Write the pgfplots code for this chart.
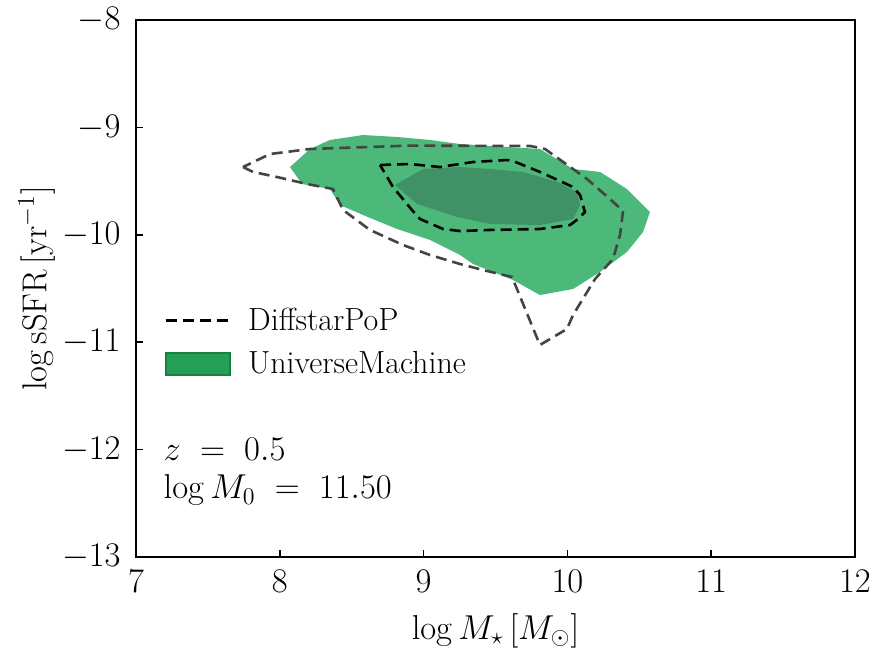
\documentclass[border=0pt]{standalone}
\usepackage{pgfplots}
\pgfplotsset{compat=1.18}
\definecolor{umgreen}{RGB}{76,185,122}
\definecolor{umdark}{RGB}{64,145,102}
\definecolor{umpatch}{RGB}{35,160,85}
\definecolor{umedge}{RGB}{24,128,66}
\definecolor{dspgray}{RGB}{68,68,68}

\begin{document}
\begin{tikzpicture}
\begin{axis}[
  scale only axis,
  width=359.5pt, height=268.5pt,
  xmin=7, xmax=12, ymin=-13, ymax=-8,
  xtick={7,8,9,10,11,12}, ytick={-13,-12,-11,-10,-9,-8},
  tick align=inside, xtick pos=bottom, ytick pos=left,
  major tick length=3.5pt,
  axis line style={line width=0.9pt},
  tick style={line width=0.8pt, black},
  ticklabel style={font=\fontsize{16.5}{19}\selectfont},
  xticklabel style={inner sep=0pt, yshift=-6.5pt},
  yticklabel style={inner sep=0pt, xshift=-7.5pt},
  xlabel={$\log M_\star\,[M_\odot]$},
  ylabel={$\log \mathrm{sSFR}\,[\mathrm{yr}^{-1}]$},
  label style={font=\fontsize{18.5}{22}\selectfont},
  xlabel style={at={(axis description cs:0.5,-0.137)}, anchor=center},
  ylabel style={at={(axis description cs:-0.138,0.5)}, anchor=center},
  legend style={draw=none, fill=none, at={(axis description cs:0.039,0.40)}, anchor=west,
    font=\fontsize{16}{19}\selectfont, row sep=5pt, inner sep=0pt},
  legend cell align=left,
]
% UniverseMachine outer contour
\addplot[fill=umgreen, draw=none, forget plot] coordinates {
(8.071,-9.369) (8.210,-9.201) (8.349,-9.117) (8.579,-9.071) (8.815,-9.089)
(9.044,-9.117) (9.253,-9.155) (9.809,-9.201) (10.039,-9.387) (10.227,-9.415)
(10.414,-9.574) (10.574,-9.788) (10.526,-9.974) (10.414,-10.160) (10.227,-10.346)
(10.039,-10.505) (9.809,-10.561) (9.622,-10.421) (9.344,-10.272) (9.253,-10.188)
(9.044,-10.048) (8.815,-9.946) (8.579,-9.816) (8.419,-9.723) (8.349,-9.574)
(8.154,-9.527) (8.071,-9.369)};
% UniverseMachine inner contour
\addplot[fill=umdark, draw=none, forget plot] coordinates {
(8.801,-9.536) (8.996,-9.387) (9.253,-9.369) (9.462,-9.387) (9.691,-9.415)
(9.928,-9.508) (10.067,-9.601) (10.088,-9.723) (10.039,-9.853) (9.809,-9.909)
(9.462,-9.899) (9.232,-9.834) (8.954,-9.713) (8.801,-9.536)};
% DiffstarPoP outer contour
\addplot[dspgray, line width=1.3pt, dash pattern=on 5.5pt off 3pt, forget plot] coordinates {
(7.744,-9.369) (7.814,-9.415) (7.981,-9.462) (8.189,-9.527) (8.370,-9.574)
(8.440,-9.769) (8.627,-9.955) (8.857,-10.095) (9.044,-10.188) (9.253,-10.272)
(9.413,-10.328) (9.615,-10.393) (9.809,-11.026) (9.997,-10.877) (10.039,-10.747)
(10.192,-10.412) (10.317,-10.225) (10.366,-10.002) (10.387,-9.778) (10.296,-9.667)
(10.136,-9.480) (9.844,-9.201) (9.740,-9.173) (8.900,-9.170) (8.210,-9.201)
(7.932,-9.248) (7.744,-9.369)};
% DiffstarPoP inner contour
\addplot[black, line width=1.3pt, dash pattern=on 5.5pt off 3pt, forget plot] coordinates {
(8.697,-9.350) (8.905,-9.341) (9.114,-9.369) (9.344,-9.322) (9.580,-9.304)
(9.622,-9.313) (9.809,-9.415) (10.039,-9.555) (10.088,-9.629) (10.122,-9.788)
(10.074,-9.853) (10.018,-9.909) (9.809,-9.946) (9.462,-9.955) (9.253,-9.965)
(9.135,-9.946) (8.975,-9.853) (8.919,-9.769) (8.787,-9.555) (8.697,-9.350)};
\addlegendimage{legend image code/.code={\draw[black, line width=1.3pt, dash pattern=on 5.5pt off 3pt] (0pt,0pt) -- (32pt,0pt); \path (39pt,0pt);}}
\addlegendentry{DiffstarPoP}
\addlegendimage{legend image code/.code={\draw[fill=umpatch, draw=umedge, line width=0.8pt] (0pt,-5.5pt) rectangle (32pt,5.5pt); \path (39pt,0pt);}}
\addlegendentry{UniverseMachine}
\node[anchor=base west, font=\fontsize{17}{20}\selectfont, inner sep=0pt] at (axis description cs:0.038,0.179) {$z\;=\;0.5$};
\node[anchor=base west, font=\fontsize{17}{20}\selectfont, inner sep=0pt] at (axis description cs:0.038,0.108) {$\log M_0\;=\;11.50$};
\coordinate (topleft) at (axis description cs:0,1);
\coordinate (botright) at (axis description cs:1,0);
\end{axis}
\path (topleft) ++(-68pt,10pt);
\path (botright) ++(8pt,-44.5pt);
\end{tikzpicture}
\end{document}
